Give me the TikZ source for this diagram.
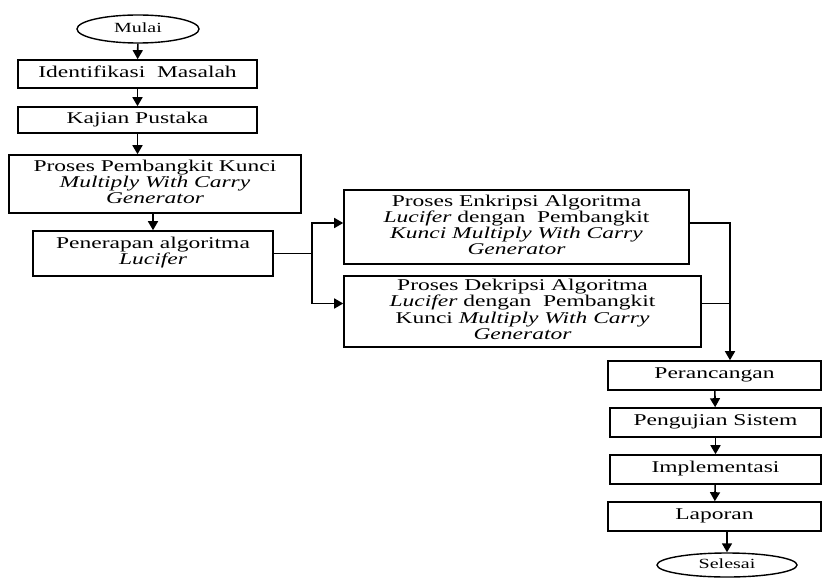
\documentclass[tikz,border=0pt]{standalone}
\usepackage{fontspec}
\setmainfont{Liberation Serif}
\usepackage{graphicx}
\usepackage{tikz}
\usetikzlibrary{shapes,arrows,arrows.meta,positioning}

\newcommand{\sqz}[1]{\scalebox{1}[0.7]{\begin{tabular}{@{}c@{}}#1\end{tabular}}}

\tikzset{
  proc/.style={draw, rectangle, line width=0.8pt, inner sep=0pt, align=center, font=\fontsize{11.75}{11.4}\selectfont},
  term/.style={draw, ellipse, line width=0.7pt, inner sep=0pt, font=\fontsize{10}{12}\selectfont},
  line/.style={draw, line width=0.8pt},
}

\begin{document}
\begin{tikzpicture}[x=0.5pt, y=-0.5pt, >={Triangle[length=4.5pt,width=5pt]}]
\useasboundingbox (0,0) rectangle (822,577);
% nodes
\node[term, minimum width=61pt, minimum height=14pt] (mulai) at (138,29) {\sqz{Mulai}};
\node[proc, minimum width=119.5pt, minimum height=14pt] (idn) at (137.5,74) {\sqz{Identifikasi\ \ Masalah}};
\node[proc, minimum width=119.5pt, minimum height=13pt] (kaj) at (137.5,120) {\sqz{Kajian Pustaka}};
\node[proc, minimum width=146pt, minimum height=29pt] (pmb) at (155,184) {\sqz{Proses Pembangkit Kunci\\ \textit{Multiply With Carry}\\ \textit{Generator}}};
\node[proc, minimum width=120pt, minimum height=22.5pt] (pnr) at (153,253.5) {\sqz{Penerapan algoritma\\ \textit{Lucifer}}};
\node[proc, minimum width=172.5pt, minimum height=37pt] (enk) at (516.5,227) {\sqz{Proses Enkripsi Algoritma\\ \textit{Lucifer} dengan\ \ Pembangkit\\ \textit{Kunci Multiply With Carry}\\ \textit{Generator}}};
\node[proc, minimum width=178.5pt, minimum height=35.5pt] (dek) at (522.5,311.5) {\sqz{Proses Dekripsi Algoritma\\ \textit{Lucifer} dengan\ \ Pembangkit\\ Kunci \textit{Multiply With Carry}\\ \textit{Generator}}};
\node[proc, minimum width=106.5pt, minimum height=14.5pt] (per) at (714.5,375.5) {\sqz{Perancangan}};
\node[proc, minimum width=105.5pt, minimum height=14.5pt] (pen) at (715.5,422.5) {\sqz{Pengujian Sistem}};
\node[proc, minimum width=105.5pt, minimum height=14.5pt] (imp) at (715.5,469.5) {\sqz{Implementasi}};
\node[proc, minimum width=106.5pt, minimum height=14.5pt] (lap) at (714.5,516.5) {\sqz{Laporan}};
\node[term, minimum width=70pt, minimum height=12pt] (sel) at (727,565) {\sqz{Selesai}};
\coordinate (split) at (312,251);
\coordinate (merge) at (730,223);

% edges
\draw[line,->] (mulai) -- (idn);
\draw[line,->] (idn) -- (kaj);
\draw[line,->] (kaj.south) -- (kaj.south |- pmb.north);
\draw[line,->] (pnr.north |- pmb.south) -- (pnr.north);
\draw[line] (pnr.east) -- (pnr.east -| split);
\draw[line,->] (pnr.east -| split) |- ([yshift=2pt]enk.west);
\draw[line,->] (pnr.east -| split) |- ([yshift=4pt]dek.west);
\draw[line,->] ([yshift=2pt]enk.east) -| (merge |- per.north);
\draw[line] ([yshift=4pt]dek.east) -- ([yshift=4pt]dek.east -| merge);
\draw[line,->] (per) -- (pen);
\draw[line,->] (pen) -- (imp);
\draw[line,->] (imp) -- (lap);
\draw[line,->] (lap.south -| sel.north) -- (sel.north);
\end{tikzpicture}
\end{document}
